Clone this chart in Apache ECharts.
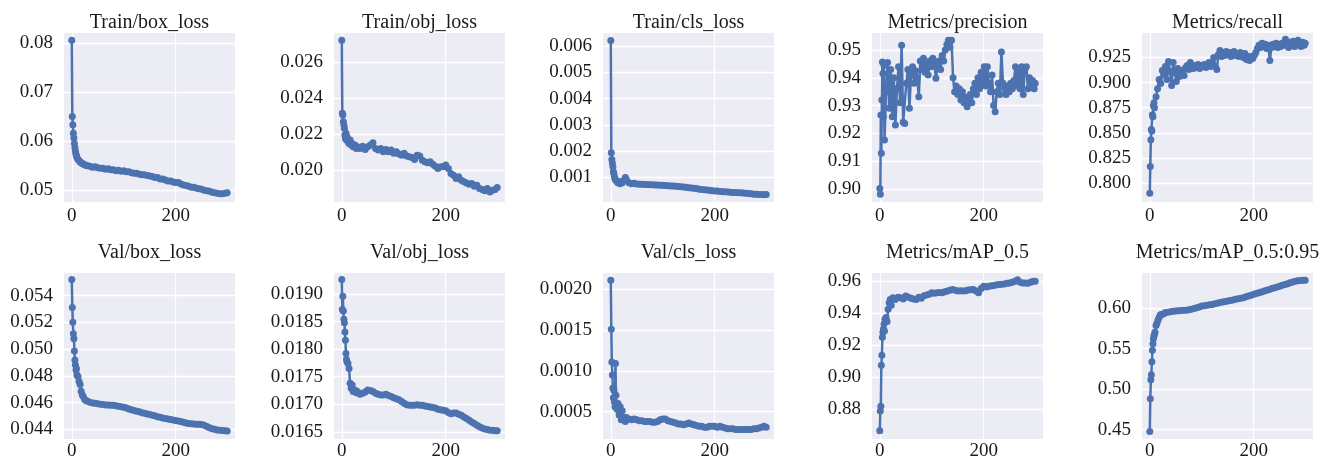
<!DOCTYPE html>
<html>
<head>
<meta charset="utf-8">
<script src="https://cdn.jsdelivr.net/npm/echarts@6/dist/echarts.min.js"></script>
<style>
html, body { margin: 0; padding: 0; background: #fff; }
#main { width: 1325px; height: 461px; }
</style>
</head>
<body>
<div id="main"></div>
<script>
var epochs = [0,1,2,3,4,5,6,7,8,9,
    10,12,14,16,18,20,22,25,28,
    30,35,40,45,50,55,60,65,70,75,
    80,85,90,95,100,105,110,115,120,125,
    130,135,140,145,150,155,160,165,170,175,
    180,185,190,195,200,205,210,215,220,225,
    230,235,240,245,250,255,260,265,270,275,
    280,285,290,295,299];

// precision and recall are noisy, so they were read every 3 epochs
var epochsDense = [0,1,2,3,4,5,6,7,8,9,
    12,15,18,21,24,27,30,33,36,39,
    42,45,48,51,54,57,60,63,66,69,
    72,75,78,81,84,87,90,93,96,99,
    102,105,108,111,114,117,120,123,126,129,
    132,135,138,141,144,147,150,153,156,159,
    162,165,168,171,174,177,180,183,186,189,
    192,195,198,201,204,207,210,213,216,219,
    222,225,228,231,234,237,240,243,246,249,
    252,255,258,261,264,267,270,273,276,279,
    282,285,288,291,294,297,299];

var trainBox = [0.0806,0.0650,0.0633,0.0616,0.0606,0.0595,0.0586,0.0579,0.0573,0.0569,
    0.0566,0.0562,0.0560,0.0557,0.0556,0.0554,0.0553,0.0551,0.0550,
    0.0549,0.0548,0.0546,0.0547,0.0545,0.0544,0.0544,0.0542,0.0543,0.0541,
    0.0541,0.0539,0.0540,0.0538,0.0539,0.0537,0.0537,0.0535,0.0534,0.0534,
    0.0532,0.0531,0.0531,0.0529,0.0528,0.0527,0.0525,0.0525,0.0522,0.0522,
    0.0520,0.0518,0.0518,0.0516,0.0515,0.0515,0.0512,0.0510,0.0509,0.0507,
    0.0505,0.0505,0.0503,0.0502,0.0501,0.0499,0.0498,0.0497,0.0495,0.0494,
    0.0493,0.0492,0.0492,0.0493,0.0494];

var trainObj = [0.02723,0.02317,0.02308,0.02271,0.02252,0.02234,0.02197,0.02178,0.02206,0.02169,
    0.02187,0.0216,0.0215,0.02169,0.02141,0.0215,0.02132,0.02141,0.02122,
    0.02132,0.02122,0.02135,0.02117,0.02132,0.02141,0.02154,0.02122,0.02113,0.02122,
    0.02104,0.02117,0.02104,0.02113,0.02095,0.02104,0.02091,0.02085,0.02095,0.0208,
    0.02076,0.02072,0.02061,0.02085,0.0208,0.02057,0.02048,0.02043,0.02048,0.02035,
    0.02024,0.02011,0.0202,0.0202,0.0203,0.02011,0.01983,0.01974,0.01955,0.01965,
    0.01946,0.01937,0.01931,0.01924,0.01927,0.01913,0.01918,0.019,0.01894,0.01887,
    0.019,0.01881,0.0189,0.01894,0.01905];

var trainCls = [0.00621,0.00194,0.00168,0.00155,0.0014,0.00121,0.00115,0.00102,0.00095,0.00092,
    0.00089,0.00083,0.00079,0.00083,0.00076,0.00083,0.00079,0.00089,0.00099,
    0.00092,0.00079,0.00076,0.00077,0.00075,0.00074,0.00074,0.00073,0.00073,0.00072,
    0.00072,0.00071,0.00071,0.0007,0.0007,0.00069,0.00068,0.00067,0.00067,0.00066,
    0.00065,0.00064,0.00063,0.00062,0.0006,0.00059,0.00058,0.00057,0.00055,0.00054,
    0.00053,0.00052,0.00051,0.00049,0.00048,0.00048,0.00046,0.00045,0.00045,0.00044,
    0.00043,0.00042,0.00042,0.00041,0.00041,0.0004,0.00039,0.00038,0.00037,0.00036,
    0.00036,0.00035,0.00035,0.00034,0.00035];

var precision = [0.9002,0.8981,0.9266,0.9128,0.932,0.9457,0.9415,0.926,0.9445,0.9176,
    0.935,0.9455,0.929,0.943,0.926,0.940,0.923,0.936,0.944,0.931,
    0.9517,0.924,0.9235,0.938,0.943,0.929,0.941,0.944,0.938,0.9425,
    0.940,0.9332,0.946,0.943,0.947,0.942,0.945,0.941,0.946,0.944,
    0.947,0.945,0.9398,0.944,0.946,0.943,0.948,0.946,0.950,0.952,
    0.9535,0.951,0.9535,0.940,0.935,0.937,0.934,0.936,0.932,0.935,
    0.931,0.933,0.9296,0.932,0.934,0.931,0.936,0.938,0.934,0.940,
    0.936,0.942,0.938,0.944,0.937,0.944,0.938,0.935,0.941,0.930,
    0.9278,0.935,0.938,0.934,0.9493,0.938,0.936,0.934,0.937,0.935,
    0.938,0.936,0.939,0.944,0.937,0.942,0.936,0.944,0.934,0.943,
    0.944,0.936,0.940,0.937,0.939,0.936,0.938];

var recall = [0.790,0.8167,0.8433,0.8533,0.852,0.868,0.866,0.877,0.880,0.875,
    0.886,0.894,0.903,0.899,0.912,0.908,0.916,0.903,0.921,0.911,
    0.897,0.920,0.910,0.901,0.914,0.906,0.910,0.912,0.907,0.915,
    0.917,0.913,0.920,0.916,0.914,0.917,0.915,0.918,0.914,0.917,
    0.916,0.918,0.915,0.917,0.920,0.916,0.919,0.925,0.916,0.913,
    0.928,0.932,0.926,0.930,0.927,0.931,0.928,0.930,0.926,0.929,
    0.931,0.927,0.929,0.926,0.930,0.928,0.925,0.929,0.923,0.926,
    0.922,0.926,0.924,0.927,0.930,0.934,0.937,0.935,0.939,0.936,
    0.938,0.934,0.937,0.922,0.935,0.938,0.936,0.939,0.935,0.938,
    0.936,0.939,0.937,0.943,0.938,0.935,0.940,0.937,0.941,0.936,
    0.939,0.942,0.938,0.936,0.940,0.937,0.939];

var valBox = [0.0552,0.05311,0.05201,0.05115,0.05078,0.04985,0.04918,0.04881,0.04844,0.04855,
    0.04807,0.04795,0.04758,0.04735,0.04685,0.04659,0.04645,0.04622,0.04615,
    0.0461,0.04603,0.04597,0.04595,0.04591,0.04588,0.04585,0.04583,0.04582,0.04581,
    0.0458,0.04577,0.04573,0.04569,0.04565,0.04559,0.04553,0.04547,0.04541,0.04536,
    0.04531,0.04525,0.04521,0.04515,0.04511,0.04506,0.04501,0.04495,0.04491,0.04485,
    0.04481,0.04478,0.04473,0.0447,0.04467,0.04463,0.04458,0.04453,0.04448,0.04444,
    0.04442,0.0444,0.04439,0.04438,0.04437,0.0443,0.04421,0.04413,0.04405,0.044,
    0.04396,0.04393,0.04391,0.04389,0.04388];

var valObj = [0.01926,0.01872,0.01896,0.01869,0.01854,0.01848,0.01831,0.01816,0.01792,0.01781,
    0.01777,0.01774,0.01765,0.01738,0.01729,0.01735,0.01723,0.01726,0.01721,
    0.01723,0.01718,0.0172,0.01722,0.01726,0.01725,0.01723,0.0172,0.01718,0.01717,
    0.01717,0.01718,0.01716,0.01714,0.01712,0.0171,0.01708,0.01705,0.01702,0.01699,
    0.01698,0.01698,0.01698,0.01699,0.01698,0.01698,0.01697,0.01696,0.01695,0.01694,
    0.01693,0.01691,0.0169,0.01689,0.01688,0.01685,0.01683,0.01684,0.01684,0.01682,
    0.0168,0.01677,0.01674,0.01671,0.01668,0.01665,0.01662,0.01659,0.01657,0.01655,
    0.01654,0.01653,0.01653,0.01652,0.01652];

var valCls = [0.00211,0.00151,0.00111,0.00095,0.00079,0.00067,0.00076,0.00062,0.00056,0.00109,
    0.0007,0.00053,0.0006,0.00046,0.00056,0.0004,0.00051,0.00043,0.00038,
    0.00043,0.00041,0.0004,0.00041,0.0004,0.00039,0.00039,0.00038,0.00038,0.00038,
    0.00037,0.00037,0.00038,0.0004,0.00041,0.00041,0.00039,0.00038,0.00037,0.00036,
    0.00035,0.00035,0.00034,0.00035,0.00036,0.00035,0.00034,0.00033,0.00032,0.00032,
    0.00031,0.00031,0.00032,0.00032,0.00032,0.00031,0.00032,0.00031,0.0003,0.00029,
    0.00029,0.00029,0.00028,0.00028,0.00028,0.00028,0.00028,0.00028,0.00028,0.00029,
    0.00029,0.0003,0.00031,0.00032,0.00031];

var map50 = [0.8665,0.8788,0.8818,0.9074,0.9136,0.9249,0.928,0.9301,0.9332,0.9288,
    0.9362,0.9373,0.9348,0.9424,0.9465,0.9485,0.9448,0.9496,0.9488,
    0.9485,0.9498,0.9496,0.9488,0.9506,0.9498,0.9493,0.9488,0.9485,0.9498,
    0.9493,0.9508,0.9513,0.9518,0.9526,0.9523,0.9526,0.9528,0.9526,0.9533,
    0.9538,0.9543,0.9547,0.9543,0.9538,0.954,0.9537,0.954,0.9544,0.9546,
    0.9547,0.9538,0.9526,0.9553,0.9567,0.9563,0.9568,0.957,0.9572,0.9576,
    0.9578,0.958,0.9582,0.9586,0.9588,0.9593,0.9598,0.9608,0.9593,0.9588,
    0.9588,0.9586,0.9593,0.9598,0.9598];

var map5095 = [0.4476,0.4882,0.5114,0.5176,0.5338,0.548,0.5561,0.5622,0.5663,0.5676,
    0.5704,0.5786,0.5816,0.5856,0.5886,0.5916,0.5921,0.5926,0.5936,
    0.5946,0.5951,0.5956,0.5961,0.5966,0.5969,0.5971,0.5974,0.5976,0.5981,
    0.5986,0.5996,0.6006,0.6016,0.6026,0.6031,0.6036,0.6041,0.6046,0.6054,
    0.6061,0.6069,0.6076,0.6083,0.6089,0.6096,0.6102,0.6109,0.6116,0.6123,
    0.613,0.6141,0.6151,0.6161,0.6171,0.6181,0.6191,0.6201,0.6212,0.6222,
    0.6232,0.6242,0.6252,0.6262,0.6272,0.6283,0.6293,0.6303,0.6313,0.6323,
    0.6334,0.6339,0.6343,0.6346,0.6346];

var titles = ['Train/box_loss', 'Train/obj_loss', 'Train/cls_loss', 'Metrics/precision', 'Metrics/recall',
    'Val/box_loss', 'Val/obj_loss', 'Val/cls_loss', 'Metrics/mAP_0.5', 'Metrics/mAP_0.5:0.95'];
var seriesValues = [trainBox, trainObj, trainCls, precision, recall,
    valBox, valObj, valCls, map50, map5095];
var seriesEpochs = [epochs, epochs, epochs, epochsDense, epochsDense,
    epochs, epochs, epochs, epochs, epochs];

// y scale of each panel
var yMin = [0.0475, 0.01825, 0.00006, 0.8953, 0.7813, 0.04328, 0.01637, 0.000165, 0.8614, 0.4383];
var yMax = [0.0821, 0.02763, 0.0065, 0.9561, 0.9493, 0.05569, 0.01938, 0.0022, 0.965, 0.6435];
var yStep = [0.01, 0.002, 0.001, 0.01, 0.025, 0.002, 0.0005, 0.0005, 0.02, 0.05];
var yDigits = [2, 3, 3, 2, 3, 3, 4, 4, 2, 2];
var xMin = -15, xMax = 314, xTickStep = 200;

var FONT = 'Liberation Serif';
var BLUE = '#4C72B0';
var INK = '#1a1a1a';
var lefts = [64, 334, 603, 872, 1142];
var tops = [33, 273];
var titleTops = [13, 243];
var plotW = 171, plotH = 169;

function toPairs(xs, values) {
    var out = [];
    for (var i = 0; i < values.length; i++) {
        out.push([xs[i], values[i]]);
    }
    return out;
}

function fixed(d) {
    return function (v) { return v.toFixed(d); };
}

function buildOption() {
    var option = { animation: false, title: [], grid: [], xAxis: [], yAxis: [], series: [] };
    for (var i = 0; i < titles.length; i++) {
        var row = Math.floor(i / 5), col = i % 5;
        var whiteLine = { show: true, showMinLine: false, showMaxLine: false,
            lineStyle: { color: '#ffffff', width: 1.3 } };
        option.title.push({
            text: titles[i],
            left: lefts[col] + plotW / 2,
            top: titleTops[row],
            textAlign: 'center',
            padding: 0,
            textStyle: { fontFamily: FONT, fontSize: 20, fontWeight: 'normal', color: INK }
        });
        option.grid.push({
            left: lefts[col], top: tops[row], width: plotW, height: plotH,
            show: true, backgroundColor: '#ECECF4', borderWidth: 0
        });
        option.xAxis.push({
            type: 'value', gridIndex: i, min: xMin, max: xMax,
            minInterval: xTickStep, maxInterval: xTickStep,
            axisLine: { show: false }, axisTick: { show: false },
            axisLabel: { showMinLabel: false, showMaxLabel: false,
                margin: row == 0 ? 5 : 3,
                fontFamily: FONT, fontSize: 19, color: INK },
            splitLine: whiteLine
        });
        option.yAxis.push({
            type: 'value', gridIndex: i, min: yMin[i], max: yMax[i],
            minInterval: yStep[i], maxInterval: yStep[i],
            axisLine: { show: false }, axisTick: { show: false },
            axisLabel: { showMinLabel: false, showMaxLabel: false, margin: 11,
                padding: row == 0 ? [6, 0, 0, 0] : [4, 0, 0, 0],
                fontFamily: FONT, fontSize: 19, color: INK,
                formatter: fixed(yDigits[i]) },
            splitLine: whiteLine
        });
        option.series.push({
            type: 'line', xAxisIndex: i, yAxisIndex: i,
            data: toPairs(seriesEpochs[i], seriesValues[i]),
            symbol: 'circle', symbolSize: 7, showAllSymbol: true,
            lineStyle: { color: BLUE, width: 2.5 },
            itemStyle: { color: BLUE },
            emphasis: { disabled: true }
        });
    }
    return option;
}

var chart = echarts.init(document.getElementById('main'));
chart.setOption(buildOption());
</script>
</body>
</html>
